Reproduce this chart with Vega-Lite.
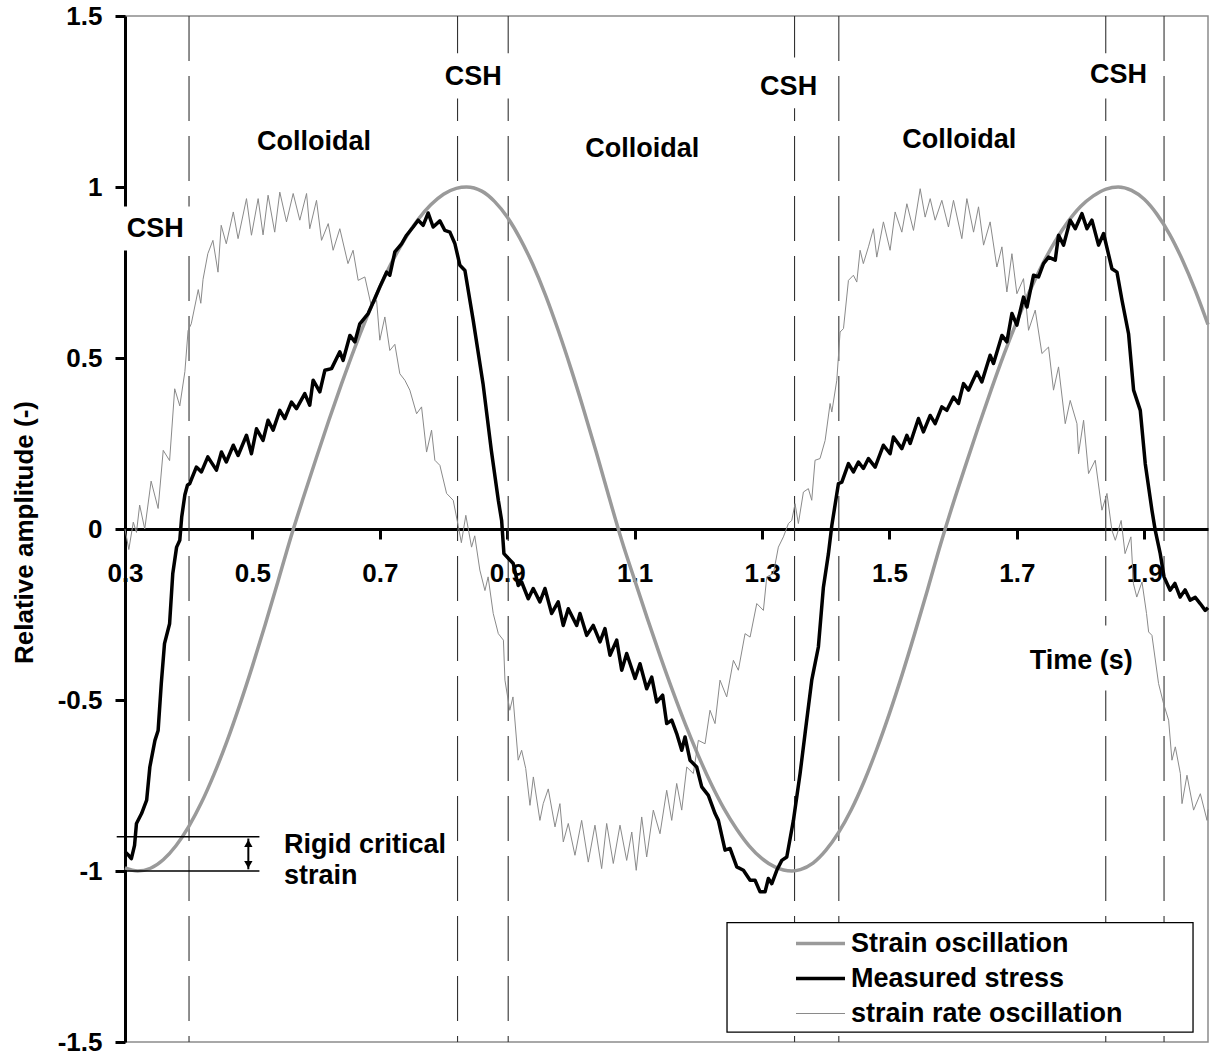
{
  "$schema": "https://vega.github.io/schema/vega-lite/v6.json",
  "width": 1083,
  "height": 1026,
  "autosize": {"type": "none"},
  "padding": {"left": 125, "top": 16, "right": 3, "bottom": 13},
  "background": "white",
  "config": {
    "font": "Liberation Sans",
    "view": {"stroke": "#8c8c8c", "strokeWidth": 1.5}
  },
  "datasets": {
    "vlines": [{"t": 0.4005, "v": 1.5, "v2": -1.5}, {"t": 0.822, "v": 1.5, "v2": -1.5}, {"t": 0.9015, "v": 1.5, "v2": -1.5}, {"t": 1.351, "v": 1.5, "v2": -1.5}, {"t": 1.4205, "v": 1.5, "v2": -1.5}, {"t": 1.8395, "v": 1.5, "v2": -1.5}, {"t": 1.931, "v": 1.5, "v2": -1.5}],
    "strain": [
      {"t":0.30,"v":-0.991},{"t":0.32,"v":-1.0},{"t":0.34,"v":-0.992},{"t":0.36,"v":-0.967},{"t":0.38,"v":-0.926},{"t":0.40,"v":-0.870},{"t":0.42,"v":-0.800},{"t":0.44,"v":-0.716},{"t":0.46,"v":-0.621},{"t":0.48,"v":-0.515},{"t":0.50,"v":-0.401},{"t":0.52,"v":-0.280},{"t":0.54,"v":-0.154},{"t":0.56,"v":-0.026},{"t":0.58,"v":0.092},{"t":0.60,"v":0.206},{"t":0.62,"v":0.318},{"t":0.64,"v":0.425},{"t":0.66,"v":0.527},{"t":0.68,"v":0.621},{"t":0.70,"v":0.707},{"t":0.72,"v":0.784},{"t":0.74,"v":0.850},{"t":0.76,"v":0.905},{"t":0.78,"v":0.948},{"t":0.80,"v":0.979},{"t":0.82,"v":0.996},{"t":0.836,"v":1.0},{"t":0.86,"v":0.988},{"t":0.88,"v":0.958},{"t":0.90,"v":0.912},{"t":0.92,"v":0.850},{"t":0.94,"v":0.774},{"t":0.96,"v":0.684},{"t":0.98,"v":0.581},{"t":1.00,"v":0.469},{"t":1.02,"v":0.349},{"t":1.04,"v":0.223},{"t":1.06,"v":0.092},{"t":1.08,"v":-0.035},{"t":1.10,"v":-0.149},{"t":1.12,"v":-0.262},{"t":1.14,"v":-0.371},{"t":1.16,"v":-0.475},{"t":1.18,"v":-0.573},{"t":1.20,"v":-0.663},{"t":1.22,"v":-0.745},{"t":1.24,"v":-0.817},{"t":1.26,"v":-0.877},{"t":1.28,"v":-0.927},{"t":1.30,"v":-0.964},{"t":1.32,"v":-0.988},{"t":1.347,"v":-1.0},{"t":1.36,"v":-0.996},{"t":1.38,"v":-0.977},{"t":1.40,"v":-0.940},{"t":1.42,"v":-0.888},{"t":1.44,"v":-0.821},{"t":1.46,"v":-0.739},{"t":1.48,"v":-0.644},{"t":1.50,"v":-0.539},{"t":1.52,"v":-0.425},{"t":1.54,"v":-0.303},{"t":1.56,"v":-0.176},{"t":1.58,"v":-0.046},{"t":1.60,"v":0.075},{"t":1.62,"v":0.189},{"t":1.64,"v":0.301},{"t":1.66,"v":0.409},{"t":1.68,"v":0.512},{"t":1.70,"v":0.607},{"t":1.72,"v":0.695},{"t":1.74,"v":0.773},{"t":1.76,"v":0.841},{"t":1.78,"v":0.898},{"t":1.80,"v":0.943},{"t":1.82,"v":0.974},{"t":1.84,"v":0.994},{"t":1.859,"v":1.0},{"t":1.88,"v":0.990},{"t":1.90,"v":0.964},{"t":1.92,"v":0.920},{"t":1.94,"v":0.861},{"t":1.96,"v":0.786},{"t":1.98,"v":0.698},{"t":2.00,"v":0.598}
    ],
    "rate": [
      {"t":0.300,"v":0.00},{"t":0.306,"v":-0.06},{"t":0.313,"v":0.02},{"t":0.318,"v":-0.01},{"t":0.323,"v":0.07},{"t":0.331,"v":0.0},{"t":0.341,"v":0.14},{"t":0.352,"v":0.06},{"t":0.360,"v":0.23},{"t":0.370,"v":0.20},{"t":0.378,"v":0.41},{"t":0.386,"v":0.36},{"t":0.394,"v":0.46},{"t":0.399,"v":0.58},{"t":0.404,"v":0.60},{"t":0.415,"v":0.70},{"t":0.419,"v":0.66},{"t":0.4225,"v":0.73},{"t":0.430,"v":0.805},{"t":0.438,"v":0.844},{"t":0.446,"v":0.751},{"t":0.451,"v":0.888},{"t":0.459,"v":0.834},{"t":0.470,"v":0.927},{"t":0.4775,"v":0.849},{"t":0.4907,"v":0.966},{"t":0.4985,"v":0.859},{"t":0.509,"v":0.966},{"t":0.5167,"v":0.86},{"t":0.5246,"v":0.976},{"t":0.535,"v":0.868},{"t":0.543,"v":0.985},{"t":0.5535,"v":0.898},{"t":0.564,"v":0.981},{"t":0.5744,"v":0.903},{"t":0.585,"v":0.981},{"t":0.590,"v":0.878},{"t":0.6006,"v":0.961},{"t":0.6085,"v":0.844},{"t":0.619,"v":0.893},{"t":0.6267,"v":0.815},{"t":0.6372,"v":0.878},{"t":0.650,"v":0.776},{"t":0.658,"v":0.815},{"t":0.666,"v":0.727},{"t":0.6765,"v":0.737},{"t":0.687,"v":0.649},{"t":0.6949,"v":0.669},{"t":0.700,"v":0.552},{"t":0.7079,"v":0.62},{"t":0.7157,"v":0.522},{"t":0.7236,"v":0.54},{"t":0.7314,"v":0.454},{"t":0.7393,"v":0.435},{"t":0.7471,"v":0.406},{"t":0.7577,"v":0.337},{"t":0.7655,"v":0.357},{"t":0.7734,"v":0.225},{"t":0.7812,"v":0.289},{"t":0.7864,"v":0.201},{"t":0.7943,"v":0.186},{"t":0.8048,"v":0.104},{"t":0.8152,"v":0.084},{"t":0.823,"v":0.01},{"t":0.828,"v":-0.04},{"t":0.835,"v":0.04},{"t":0.844,"v":-0.053},{"t":0.849,"v":-0.02},{"t":0.857,"v":-0.12},{"t":0.865,"v":-0.18},{"t":0.870,"v":-0.14},{"t":0.878,"v":-0.247},{"t":0.886,"v":-0.306},{"t":0.894,"v":-0.325},{"t":0.8964,"v":-0.442},{"t":0.904,"v":-0.53},{"t":0.909,"v":-0.491},{"t":0.9172,"v":-0.676},{"t":0.9226,"v":-0.647},{"t":0.929,"v":-0.70},{"t":0.9357,"v":-0.808},{"t":0.941,"v":-0.725},{"t":0.9513,"v":-0.852},{"t":0.9565,"v":-0.803},{"t":0.9644,"v":-0.76},{"t":0.975,"v":-0.871},{"t":0.9827,"v":-0.803},{"t":0.988,"v":-0.915},{"t":0.9958,"v":-0.861},{"t":1.0063,"v":-0.954},{"t":1.0168,"v":-0.852},{"t":1.0272,"v":-0.974},{"t":1.0377,"v":-0.866},{"t":1.0482,"v":-0.993},{"t":1.0561,"v":-0.861},{"t":1.0665,"v":-0.978},{"t":1.077,"v":-0.866},{"t":1.0875,"v":-0.969},{"t":1.0955,"v":-0.886},{"t":1.1025,"v":-0.998},{"t":1.1111,"v":-0.842},{"t":1.1189,"v":-0.959},{"t":1.1293,"v":-0.822},{"t":1.1398,"v":-0.891},{"t":1.1503,"v":-0.764},{"t":1.1582,"v":-0.852},{"t":1.166,"v":-0.744},{"t":1.1739,"v":-0.822},{"t":1.1818,"v":-0.696},{"t":1.1921,"v":-0.715},{"t":1.200,"v":-0.618},{"t":1.2105,"v":-0.628},{"t":1.2183,"v":-0.53},{"t":1.2262,"v":-0.569},{"t":1.234,"v":-0.442},{"t":1.2445,"v":-0.491},{"t":1.255,"v":-0.384},{"t":1.2628,"v":-0.413},{"t":1.2733,"v":-0.306},{"t":1.2812,"v":-0.316},{"t":1.2917,"v":-0.218},{"t":1.3021,"v":-0.238},{"t":1.3074,"v":-0.14},{"t":1.3178,"v":-0.13},{"t":1.3256,"v":-0.053},{"t":1.3335,"v":-0.023},{"t":1.3414,"v":0.016},{"t":1.3466,"v":0.025},{"t":1.3518,"v":0.074},{"t":1.357,"v":0.016},{"t":1.3649,"v":0.108},{"t":1.3727,"v":0.118},{"t":1.378,"v":0.084},{"t":1.3832,"v":0.201},{"t":1.391,"v":0.206},{"t":1.399,"v":0.259},{"t":1.4068,"v":0.367},{"t":1.4095,"v":0.342},{"t":1.4173,"v":0.435},{"t":1.4225,"v":0.576},{"t":1.4278,"v":0.586},{"t":1.4356,"v":0.727},{"t":1.4434,"v":0.742},{"t":1.4487,"v":0.722},{"t":1.4539,"v":0.815},{"t":1.459,"v":0.776},{"t":1.467,"v":0.825},{"t":1.4748,"v":0.878},{"t":1.4801,"v":0.795},{"t":1.4905,"v":0.898},{"t":1.501,"v":0.815},{"t":1.5089,"v":0.927},{"t":1.5194,"v":0.868},{"t":1.5273,"v":0.951},{"t":1.5377,"v":0.873},{"t":1.5482,"v":0.995},{"t":1.556,"v":0.912},{"t":1.5639,"v":0.966},{"t":1.5717,"v":0.903},{"t":1.5822,"v":0.961},{"t":1.5926,"v":0.883},{"t":1.6005,"v":0.961},{"t":1.6136,"v":0.849},{"t":1.6215,"v":0.966},{"t":1.632,"v":0.868},{"t":1.6398,"v":0.942},{"t":1.6477,"v":0.830},{"t":1.658,"v":0.898},{"t":1.6686,"v":0.766},{"t":1.6765,"v":0.825},{"t":1.6843,"v":0.693},{"t":1.6922,"v":0.805},{"t":1.700,"v":0.688},{"t":1.7104,"v":0.732},{"t":1.7183,"v":0.581},{"t":1.7288,"v":0.64},{"t":1.7393,"v":0.513},{"t":1.7497,"v":0.532},{"t":1.7575,"v":0.406},{"t":1.7654,"v":0.474},{"t":1.7759,"v":0.308},{"t":1.7837,"v":0.376},{"t":1.7943,"v":0.308},{"t":1.7968,"v":0.220},{"t":1.8047,"v":0.318},{"t":1.8125,"v":0.162},{"t":1.823,"v":0.201},{"t":1.8335,"v":0.055},{"t":1.8414,"v":0.104},{"t":1.8492,"v":-0.004},{"t":1.8545,"v":-0.033},{"t":1.8637,"v":0.025},{"t":1.8698,"v":-0.072},{"t":1.879,"v":-0.023},{"t":1.883,"v":-0.16},{"t":1.8882,"v":-0.199},{"t":1.8964,"v":-0.155},{"t":1.9035,"v":-0.247},{"t":1.9068,"v":-0.301},{"t":1.912,"v":-0.311},{"t":1.9224,"v":-0.452},{"t":1.9303,"v":-0.511},{"t":1.9382,"v":-0.559},{"t":1.9434,"v":-0.676},{"t":1.9487,"v":-0.637},{"t":1.9566,"v":-0.715},{"t":1.9592,"v":-0.803},{"t":1.967,"v":-0.720},{"t":1.9774,"v":-0.822},{"t":1.988,"v":-0.774},{"t":1.9985,"v":-0.852},{"t":2.0,"v":-0.82}
    ],
    "stress": [
      {"t":0.300,"v":-0.944},{"t":0.306,"v":-0.955},{"t":0.310,"v":-0.964},{"t":0.315,"v":-0.925},{"t":0.318,"v":-0.861},{"t":0.326,"v":-0.832},{"t":0.334,"v":-0.793},{"t":0.339,"v":-0.696},{"t":0.347,"v":-0.618},{"t":0.352,"v":-0.589},{"t":0.357,"v":-0.451},{"t":0.362,"v":-0.335},{"t":0.370,"v":-0.277},{"t":0.375,"v":-0.13},{"t":0.381,"v":-0.053},{"t":0.386,"v":-0.033},{"t":0.389,"v":0.035},{"t":0.394,"v":0.10},{"t":0.398,"v":0.128},{"t":0.4016,"v":0.133},{"t":0.412,"v":0.181},{"t":0.420,"v":0.167},{"t":0.430,"v":0.211},{"t":0.4435,"v":0.172},{"t":0.4514,"v":0.225},{"t":0.459,"v":0.196},{"t":0.470,"v":0.245},{"t":0.4775,"v":0.215},{"t":0.4907,"v":0.274},{"t":0.4985,"v":0.220},{"t":0.5064,"v":0.293},{"t":0.5167,"v":0.259},{"t":0.5246,"v":0.318},{"t":0.5325,"v":0.289},{"t":0.543,"v":0.347},{"t":0.5508,"v":0.323},{"t":0.5613,"v":0.371},{"t":0.5692,"v":0.352},{"t":0.5822,"v":0.396},{"t":0.590,"v":0.362},{"t":0.5953,"v":0.435},{"t":0.6058,"v":0.401},{"t":0.6137,"v":0.464},{"t":0.6242,"v":0.469},{"t":0.6372,"v":0.518},{"t":0.6424,"v":0.493},{"t":0.653,"v":0.566},{"t":0.6608,"v":0.547},{"t":0.6686,"v":0.600},{"t":0.6817,"v":0.630},{"t":0.6922,"v":0.674},{"t":0.700,"v":0.708},{"t":0.7106,"v":0.751},{"t":0.7157,"v":0.742},{"t":0.7236,"v":0.810},{"t":0.7341,"v":0.834},{"t":0.742,"v":0.859},{"t":0.7523,"v":0.883},{"t":0.7602,"v":0.903},{"t":0.768,"v":0.888},{"t":0.7759,"v":0.924},{"t":0.7837,"v":0.883},{"t":0.7943,"v":0.901},{"t":0.8021,"v":0.873},{"t":0.810,"v":0.868},{"t":0.8179,"v":0.834},{"t":0.8257,"v":0.771},{"t":0.8336,"v":0.756},{"t":0.8466,"v":0.610},{"t":0.862,"v":0.425},{"t":0.875,"v":0.230},{"t":0.886,"v":0.084},{"t":0.8912,"v":0.025},{"t":0.8948,"v":-0.072},{"t":0.9094,"v":-0.101},{"t":0.9172,"v":-0.165},{"t":0.9226,"v":-0.155},{"t":0.933,"v":-0.204},{"t":0.9408,"v":-0.174},{"t":0.9513,"v":-0.213},{"t":0.9592,"v":-0.174},{"t":0.9697,"v":-0.247},{"t":0.980,"v":-0.213},{"t":0.9879,"v":-0.282},{"t":0.9958,"v":-0.233},{"t":1.009,"v":-0.282},{"t":1.0142,"v":-0.247},{"t":1.0247,"v":-0.311},{"t":1.035,"v":-0.282},{"t":1.0456,"v":-0.330},{"t":1.0534,"v":-0.291},{"t":1.0613,"v":-0.369},{"t":1.0718,"v":-0.325},{"t":1.0797,"v":-0.413},{"t":1.0875,"v":-0.364},{"t":1.1006,"v":-0.437},{"t":1.1084,"v":-0.394},{"t":1.1189,"v":-0.467},{"t":1.1268,"v":-0.433},{"t":1.1346,"v":-0.506},{"t":1.144,"v":-0.486},{"t":1.1503,"v":-0.569},{"t":1.1582,"v":-0.559},{"t":1.166,"v":-0.598},{"t":1.1739,"v":-0.647},{"t":1.1791,"v":-0.608},{"t":1.1869,"v":-0.676},{"t":1.1974,"v":-0.696},{"t":1.2053,"v":-0.754},{"t":1.2157,"v":-0.779},{"t":1.2262,"v":-0.832},{"t":1.2314,"v":-0.852},{"t":1.2419,"v":-0.939},{"t":1.2497,"v":-0.934},{"t":1.2603,"v":-0.988},{"t":1.2707,"v":-0.998},{"t":1.2812,"v":-1.027},{"t":1.289,"v":-1.027},{"t":1.2969,"v":-1.061},{"t":1.3047,"v":-1.061},{"t":1.3099,"v":-1.022},{"t":1.3153,"v":-1.037},{"t":1.3231,"v":-0.998},{"t":1.331,"v":-0.969},{"t":1.3388,"v":-0.959},{"t":1.3492,"v":-0.852},{"t":1.3597,"v":-0.715},{"t":1.3675,"v":-0.598},{"t":1.378,"v":-0.442},{"t":1.3884,"v":-0.345},{"t":1.3963,"v":-0.170},{"t":1.4042,"v":-0.072},{"t":1.4095,"v":0.01},{"t":1.4199,"v":0.133},{"t":1.4252,"v":0.137},{"t":1.4356,"v":0.191},{"t":1.4434,"v":0.167},{"t":1.4513,"v":0.196},{"t":1.4591,"v":0.177},{"t":1.467,"v":0.206},{"t":1.4775,"v":0.181},{"t":1.4905,"v":0.245},{"t":1.501,"v":0.220},{"t":1.5062,"v":0.269},{"t":1.5194,"v":0.235},{"t":1.5273,"v":0.274},{"t":1.5325,"v":0.250},{"t":1.5455,"v":0.323},{"t":1.5533,"v":0.284},{"t":1.5639,"v":0.332},{"t":1.5717,"v":0.308},{"t":1.5822,"v":0.357},{"t":1.5901,"v":0.347},{"t":1.6005,"v":0.386},{"t":1.6083,"v":0.367},{"t":1.6162,"v":0.425},{"t":1.624,"v":0.406},{"t":1.6372,"v":0.459},{"t":1.645,"v":0.430},{"t":1.658,"v":0.508},{"t":1.6633,"v":0.484},{"t":1.6765,"v":0.566},{"t":1.6843,"v":0.547},{"t":1.6922,"v":0.630},{"t":1.700,"v":0.596},{"t":1.7104,"v":0.678},{"t":1.7158,"v":0.649},{"t":1.7261,"v":0.742},{"t":1.734,"v":0.737},{"t":1.7418,"v":0.776},{"t":1.7497,"v":0.795},{"t":1.7602,"v":0.786},{"t":1.7654,"v":0.859},{"t":1.7733,"v":0.830},{"t":1.7837,"v":0.903},{"t":1.7916,"v":0.878},{"t":1.8021,"v":0.922},{"t":1.810,"v":0.878},{"t":1.8178,"v":0.903},{"t":1.8282,"v":0.830},{"t":1.8361,"v":0.864},{"t":1.8492,"v":0.761},{"t":1.8571,"v":0.751},{"t":1.865,"v":0.669},{"t":1.8753,"v":0.571},{"t":1.8832,"v":0.406},{"t":1.8937,"v":0.347},{"t":1.9015,"v":0.191},{"t":1.912,"v":0.055},{"t":1.9172,"v":-0.004},{"t":1.925,"v":-0.072},{"t":1.931,"v":-0.14},{"t":1.9405,"v":-0.179},{"t":1.948,"v":-0.159},{"t":1.9563,"v":-0.199},{"t":1.964,"v":-0.178},{"t":1.972,"v":-0.208},{"t":1.980,"v":-0.2},{"t":1.9877,"v":-0.218},{"t":1.9956,"v":-0.238},{"t":2.0,"v":-0.23}
    ],
    "boxes": [
      {"t": 0.295, "t2": 0.405, "v": 0.943, "v2": 0.814},
      {"t": 0.802, "t2": 0.907, "v": 1.391, "v2": 1.259},
      {"t": 1.290, "t2": 1.399, "v": 1.379, "v2": 1.230},
      {"t": 1.809, "t2": 1.917, "v": 1.391, "v2": 1.259},
      {"t": 1.713, "t2": 1.886, "v": -0.282, "v2": -0.472}
    ],
    "legendbox": [{"t": 1.245, "t2": 1.9765, "v": -1.151, "v2": -1.471}],
    "labels": [
      {"t": 0.3474, "v": 0.877, "label": "CSH"},
      {"t": 0.5967, "v": 1.132, "label": "Colloidal"},
      {"t": 0.8466, "v": 1.322, "label": "CSH"},
      {"t": 1.1119, "v": 1.112, "label": "Colloidal"},
      {"t": 1.3417, "v": 1.293, "label": "CSH"},
      {"t": 1.6094, "v": 1.138, "label": "Colloidal"},
      {"t": 1.8594, "v": 1.327, "label": "CSH"},
      {"t": 1.801, "v": -0.386, "label": "Time (s)"}
    ],
    "rigidtext": [
      {"t": 0.5497, "v": -0.924, "label": "Rigid critical"},
      {"t": 0.5497, "v": -1.016, "label": "strain"}
    ],
    "rigidlines": [
      {"t": 0.287, "t2": 0.511, "v": -0.9},
      {"t": 0.287, "t2": 0.511, "v": -1.0}
    ],
    "arrow": [{"t": 0.4936, "v": -0.905, "v2": -0.995}],
    "heads": [
      {"t": 0.4936, "v": -0.919, "dir": "up"},
      {"t": 0.4936, "v": -0.981, "dir": "down"}
    ]
  },
  "encoding": {
    "x": {"field": "t", "type": "quantitative", "scale": {"domain": [0.3, 2.0], "nice": false, "zero": false},
      "axis": {"orient": "bottom", "offset": -513, "values": [0.3, 0.5, 0.7, 0.9, 1.1, 1.3, 1.5, 1.7, 1.9], "labelExpr": "'' + datum.value", "title": null, "grid": false, "domainColor": "#000000", "domainWidth": 3, "tickColor": "#000000", "tickWidth": 3, "tickSize": 10, "labelFont": "Liberation Sans", "labelFontSize": 26, "labelFontWeight": "bold", "labelColor": "#000000", "labelPadding": 21, "labelFlush": false, "labelOverlap": false, "labelBound": false}},
    "y": {"field": "v", "type": "quantitative", "scale": {"domain": [-1.5, 1.5], "nice": false, "zero": false},
      "axis": {"values": [-1.5, -1, -0.5, 0, 0.5, 1, 1.5], "labelExpr": "'' + datum.value", "title": "Relative amplitude (-)", "titleFont": "Liberation Sans", "titleFontSize": 26, "titleFontWeight": "bold", "titleColor": "#000000", "titleX": -101, "titleY": 516, "titleAngle": -90, "titleAlign": "center", "titleBaseline": "middle", "grid": false, "domainColor": "#000000", "domainWidth": 3, "tickColor": "#000000", "tickWidth": 3, "tickSize": 10, "labelFont": "Liberation Sans", "labelFontSize": 26, "labelFontWeight": "bold", "labelColor": "#000000", "labelPadding": 13, "labelFlush": false, "labelOverlap": false, "labelBound": false}}
  },
  "layer": [
    {
      "data": {"name": "vlines"},
      "mark": {"type": "rule", "color": "#333333", "strokeWidth": 1.1, "strokeDash": [45, 15]},
      "encoding": {"y2": {"field": "v2"}}
    },
    {
      "data": {"name": "strain"},
      "mark": {"type": "line", "strokeWidth": 3.5, "interpolate": "monotone", "strokeJoin": "round"},
      "encoding": {
        "color": {"datum": "Strain oscillation", "type": "nominal",
          "scale": {"domain": ["Strain oscillation", "Measured stress", "strain rate oscillation"], "range": ["#9a9a9a", "#000000", "#8a8a8a"]},
          "legend": {"orient": "none", "legendX": 682, "legendY": 914, "title": null, "symbolType": "stroke", "symbolSize": 2400, "symbolStrokeWidth": 3.5, "labelFont": "Liberation Sans", "labelFontSize": 27, "labelFontWeight": "bold", "labelColor": "#000000", "labelOffset": 17, "labelLimit": 500, "rowPadding": 7, "padding": 0,
            "encode": {"symbols": {"update": {"strokeWidth": {"signal": "datum.value === 'strain rate oscillation' ? 1 : 3.5"}}}}}}
      }
    },
    {
      "data": {"name": "rate"},
      "mark": {"type": "line", "strokeWidth": 1},
      "encoding": {"color": {"datum": "strain rate oscillation", "type": "nominal"}}
    },
    {
      "data": {"name": "stress"},
      "mark": {"type": "line", "strokeWidth": 3.5, "strokeJoin": "round"},
      "encoding": {"color": {"datum": "Measured stress", "type": "nominal"}}
    },
    {
      "data": {"name": "rigidlines"},
      "mark": {"type": "rule", "color": "#000000", "strokeWidth": 1.5},
      "encoding": {"x2": {"field": "t2"}}
    },
    {
      "data": {"name": "arrow"},
      "mark": {"type": "rule", "color": "#000000", "strokeWidth": 2},
      "encoding": {"y2": {"field": "v2"}}
    },
    {
      "data": {"name": "heads"},
      "mark": {"type": "point", "filled": true, "color": "#000000", "size": 70, "opacity": 1},
      "encoding": {
        "shape": {"field": "dir", "type": "nominal", "scale": {"domain": ["up", "down"], "range": ["triangle-up", "triangle-down"]}, "legend": null}
      }
    },
    {
      "data": {"name": "boxes"},
      "mark": {"type": "rect", "color": "#ffffff", "opacity": 1},
      "encoding": {"x2": {"field": "t2"}, "y2": {"field": "v2"}}
    },
    {
      "data": {"name": "legendbox"},
      "mark": {"type": "rect", "fill": "#ffffff", "stroke": "#000000", "strokeWidth": 1.3, "opacity": 1},
      "encoding": {"x2": {"field": "t2"}, "y2": {"field": "v2"}}
    },
    {
      "data": {"name": "labels"},
      "mark": {"type": "text", "font": "Liberation Sans", "fontSize": 27, "fontWeight": "bold", "color": "#000000", "align": "center", "baseline": "middle"},
      "encoding": {"text": {"field": "label"}}
    },
    {
      "data": {"name": "rigidtext"},
      "mark": {"type": "text", "font": "Liberation Sans", "fontSize": 27, "fontWeight": "bold", "color": "#000000", "align": "left", "baseline": "middle"},
      "encoding": {"text": {"field": "label"}}
    }
  ]
}
